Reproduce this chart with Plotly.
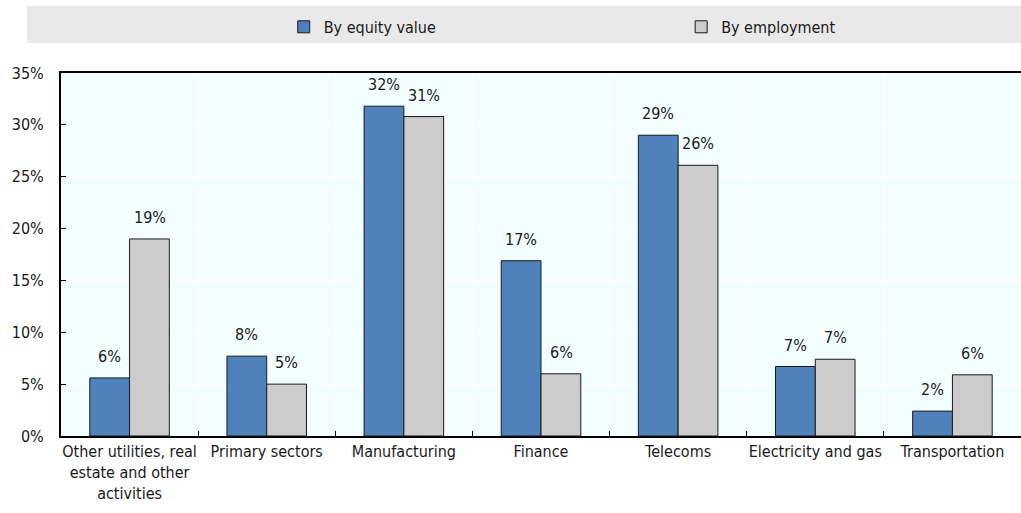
import plotly.graph_objects as go

categories = [
    "Other utilities, real<br>estate and other<br>activities",
    "Primary sectors",
    "Manufacturing",
    "Finance",
    "Telecoms",
    "Electricity and gas",
    "Transportation",
]
equity_value = [5.6, 7.7, 31.8, 16.9, 29.0, 6.7, 2.4]
employment = [19.0, 5.0, 30.8, 6.0, 26.1, 7.4, 5.9]
y_ticks = [0, 5, 10, 15, 20, 25, 30, 35]

FONT = "DejaVu Sans Condensed, Liberation Sans, Arial, sans-serif"
FS = 16
BLUE = "#4f81bd"
GREY = "#cccccc"
TXT = "#1a1a1a"

fig = go.Figure()
fig.add_trace(go.Bar(
    name="By equity value", x=categories, y=equity_value, legend="legend",
    marker=dict(color=BLUE, line=dict(color=TXT, width=1)),
))
fig.add_trace(go.Bar(
    name="By employment", x=categories, y=employment, legend="legend2",
    marker=dict(color=GREY, line=dict(color=TXT, width=1)),
))

# value labels above each bar
for vals, shift in ((equity_value, -20), (employment, 20)):
    for cat, v in zip(categories, vals):
        fig.add_annotation(
            x=cat, y=v, text=f"{v:.0f}%", showarrow=False,
            xshift=shift, yanchor="bottom", yshift=10,
            font=dict(family=FONT, size=FS, color=TXT),
        )

# grey band behind the legend
fig.add_shape(type="rect", xref="paper", yref="paper",
              x0=-0.0354, x1=1.0, y0=1.0826, y1=1.1846,
              fillcolor="#e9e9e9", line_width=0, layer="below")

legend_common = dict(
    orientation="h", y=1.127, yanchor="middle",
    bgcolor="rgba(0,0,0,0)", font=dict(family=FONT, size=FS, color=TXT),
    itemclick=False, itemdoubleclick=False,
)

fig.update_layout(
    width=1021, height=513,
    margin=dict(l=61, r=0, t=73, b=77),
    paper_bgcolor="white",
    plot_bgcolor="#f3ffff",
    barmode="group",
    bargap=0.42,
    bargroupgap=0,
    font=dict(family=FONT, size=FS, color=TXT),
    showlegend=True,
    legend=dict(x=0.232, xanchor="left", **legend_common),
    legend2=dict(x=0.646, xanchor="left", **legend_common),
    xaxis=dict(
        showline=True, linecolor="#000000", linewidth=2, mirror=True,
        ticks="inside", tickson="boundaries", ticklen=5, tickcolor="#000000",
        showgrid=True, gridcolor="white", gridwidth=1,
        tickangle=0, automargin=False,
        tickfont=dict(family=FONT, size=FS, color=TXT),
    ),
    yaxis=dict(
        range=[0, 35], tickvals=y_ticks, ticktext=[f"{t}%" for t in y_ticks],
        showline=True, linecolor="#000000", linewidth=2,
        ticks="inside", ticklen=5, tickcolor="#000000",
        showgrid=True, gridcolor="white", gridwidth=1, zeroline=False,
        automargin=False,
        tickfont=dict(family=FONT, size=FS, color=TXT),
        ticklabelstandoff=12,
    ),
)

fig.write_html("out.html")
